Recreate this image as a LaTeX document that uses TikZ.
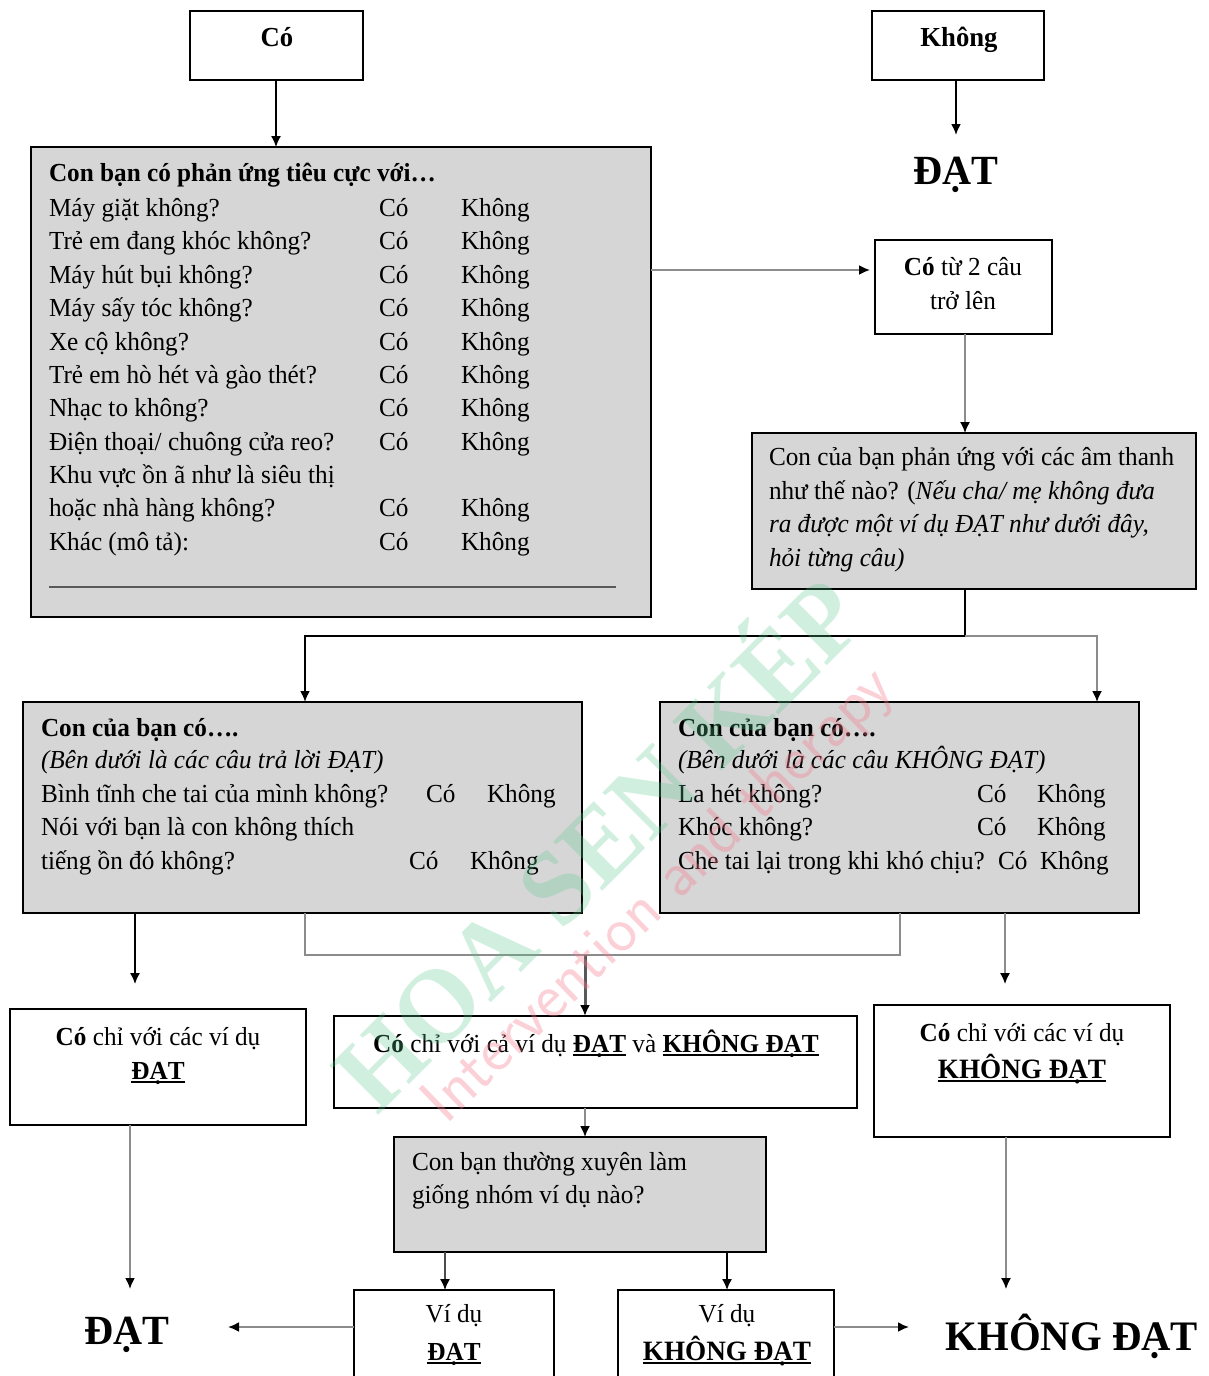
\documentclass[tikz,border=0pt]{standalone}
\usepackage{fontspec}
\setmainfont[FakeStretch=0.97]{Liberation Serif}
\usetikzlibrary{arrows.meta,calc}
\newcounter{tn}
\tikzset{
 x=1pt,y=-1pt,
 boxw/.style={draw=black,line width=1.6pt,fill=white,anchor=north west,inner sep=0pt,outer sep=0pt},
 boxg/.style={boxw,fill=boxgray},
 txt/.style={anchor=base west,inner sep=0pt,outer sep=0pt,font=\fontsize{26}{30}\selectfont},
 ctr/.style={txt,anchor=base},
 big/.style={anchor=base,inner sep=0pt},
 conb/.style={line width=1.5pt,draw=black,-{Latex[length=11pt,width=10pt]}},
 cong/.style={line width=1.8pt,draw=linegray,-{Latex[length=11pt,width=10pt,color=black]}},
 plainb/.style={line width=1.5pt,draw=black},
 plaing/.style={line width=1.8pt,draw=linegray},
}
\definecolor{boxgray}{HTML}{D6D6D6}
\definecolor{linegray}{HTML}{8C8C8C}
\definecolor{wmgreen}{HTML}{5CC98F}
\definecolor{wmpink}{HTML}{F47C8E}
\newcommand\bx[6]{\node[#1,minimum width=#4-#2,minimum height=#5-#3] (#6) at (#2,#3) {};}
\newcommand\tl[3]{\stepcounter{tn}\node[txt] (t\thetn) at (#1,#2) {#3};}
\newcommand\tc[3]{\stepcounter{tn}\node[ctr] (t\thetn) at (#1,#2) {#3};}
\newcommand\row[5]{\tl{#1}{#2}{#3}\tl{#4}{#2}{Có}\tl{#5}{#2}{Không}}
\newcommand\ub[1]{\setbox0\hbox{\textbf{#1}}\rlap{\raisebox{-.16em}{\rule{\wd0}{.09em}}}\box0\relax}
\begin{document}
\begin{tikzpicture}
\useasboundingbox (0,0) rectangle (1208,1376);
\fill[white] (0,0) rectangle (1208,1376);
% boxes
\bx{boxw}{190}{11}{363}{80}{co}
\bx{boxw}{872}{11}{1044}{80}{khong}
\bx{boxg}{31}{147}{651}{617}{qa}
\bx{boxw}{875}{240}{1052}{334}{two}
\bx{boxg}{752}{433}{1196}{589}{qb}
\bx{boxg}{23}{702}{582}{913}{yes}
\bx{boxg}{660}{702}{1139}{913}{no}
\bx{boxw}{10}{1009}{306}{1125}{ra}
\bx{boxw}{334}{1016}{857}{1108}{rb}
\bx{boxw}{874}{1005}{1170}{1137}{rc}
\bx{boxg}{394}{1137}{766}{1252}{qc}
\bx{boxw}{354}{1290}{554}{1400}{ve}
\bx{boxw}{618}{1290}{834}{1400}{vf}
% big results
\node[big,font=\fontsize{41.5}{44}\selectfont\bfseries] (dat1) at (956,184) {ĐẠT};
\node[big,font=\fontsize{41.5}{44}\selectfont\bfseries] (dat2) at (127,1344) {ĐẠT};
\node[big,font=\fontsize{42}{46}\selectfont\bfseries] (kdat) at (1072,1350) {KHÔNG ĐẠT};
% helper coordinates
\coordinate (x1) at (956,0);
\coordinate (y1) at (0,270);
\coordinate (n1) at (870,270);
\coordinate (x2) at (965,0);
\coordinate (j1) at (965,636);
\coordinate (x3) at (305,0);
\coordinate (x4) at (1097,0);
\coordinate (y2) at (0,955);
\coordinate (x5) at (900,0);
\coordinate (x6) at (585,0);
\coordinate (x7) at (135,0);
\coordinate (x8) at (1005,0);
\coordinate (y3) at (0,984);
\coordinate (x9) at (130,0);
\coordinate (x10) at (1006,0);
\coordinate (y4) at (0,1289);
\coordinate (x11) at (445,0);
\coordinate (x12) at (727,0);
\coordinate (y5) at (0,1327);
\coordinate (x13) at (228,0);
\coordinate (x14) at (909,0);
\coordinate (x15) at (276,0);
\coordinate (y6) at (0,135);
% connectors
\draw[conb,line width=1.4pt] (x15 |- co.south) -- (x15 |- qa.north);
\draw[conb,line width=2pt] (x1 |- khong.south) -- (x1 |- y6);
\draw[cong] (y1 -| qa.east) -- (n1);
\draw[cong,line width=1.5pt] (x2 |- two.south) -- (x2 |- qb.north);
\draw[plainb,line width=2pt] (x2 |- qb.south) -- (j1);
\draw[conb,line width=2pt] (j1) -- (x3 |- j1) -- (x3 |- yes.north);
\draw[cong] (j1) -- (x4 |- j1) -- (x4 |- no.north);
\draw[plaing] (x3 |- yes.south) -- (x3 |- y2) -- (x5 |- y2) -- (x5 |- no.south);
\draw[cong,line width=3pt,draw=black!65] (x6 |- y2) -- (x6 |- rb.north);
\draw[conb] (x7 |- yes.south) -- (x7 |- y3);
\draw[cong,line width=1.5pt] (x8 |- no.south) -- (x8 |- y3);
\draw[cong,line width=2pt,draw=black!45] (x9 |- ra.south) -- (x9 |- y4);
\draw[cong,line width=1.3pt] (x10 |- rc.south) -- (x10 |- y4);
\draw[cong] (x6 |- rb.south) -- (x6 |- qc.north);
\draw[cong,line width=1.5pt,draw=black!70] (x11 |- qc.south) -- (x11 |- ve.north);
\draw[conb] (x12 |- qc.south) -- (x12 |- vf.north);
\draw[cong,line width=2pt] (y5 -| ve.west) -- (x13 |- y5);
\draw[cong,line width=2pt] (y5 -| vf.east) -- (x14 |- y5);
% box texts
\stepcounter{tn}\node[ctr,font=\fontsize{27.5}{30}\selectfont\bfseries] (t\thetn) at (277,46) {Có};
\stepcounter{tn}\node[ctr,font=\fontsize{27.5}{30}\selectfont\bfseries] (t\thetn) at (959,46) {Không};
\tl{49}{181}{\textbf{Con bạn có phản ứng tiêu cực với…}}
\row{49}{216}{Máy giặt không?}{379}{461}
\row{49}{249}{Trẻ em đang khóc không?}{379}{461}
\row{49}{283}{Máy hút bụi không?}{379}{461}
\row{49}{316}{Máy sấy tóc không?}{379}{461}
\row{49}{350}{Xe cộ không?}{379}{461}
\row{49}{383}{Trẻ em hò hét và gào thét?}{379}{461}
\row{49}{416}{Nhạc to không?}{379}{461}
\row{49}{450}{Điện thoại/ chuông cửa reo?}{379}{461}
\tl{49}{483}{Khu vực ồn ã như là siêu thị}
\row{49}{516}{hoặc nhà hàng không?}{379}{461}
\row{49}{550}{Khác (mô tả):}{379}{461}
\coordinate (ra1) at (49,587);
\coordinate (ra2) at (616,587);
\draw[line width=1.3pt,draw=black!65] (ra1) -- (ra2);
\tc{963}{275}{\textbf{Có} từ 2 câu}
\tc{963}{309}{trở lên}
\tl{769}{465}{Con của bạn phản ứng với các âm thanh}
\tl{769}{499}{như thế nào? (\textit{Nếu cha/ mẹ không đưa}}
\tl{769}{532}{\textit{ra được một ví dụ ĐẠT như dưới đây,}}
\tl{769}{566}{\textit{hỏi từng câu)}}
\tl{41}{736}{\textbf{Con của bạn có….}}
\tl{41}{768}{\textit{(Bên dưới là các câu trả lời ĐẠT)}}
\row{41}{802}{Bình tĩnh che tai của mình không?}{426}{487}
\tl{41}{835}{Nói với bạn là con không thích}
\row{41}{869}{tiếng ồn đó không?}{409}{470}
\tl{678}{736}{\textbf{Con của bạn có….}}
\tl{678}{768}{\textit{(Bên dưới là các câu KHÔNG ĐẠT)}}
\row{678}{802}{La hét không?}{977}{1037}
\row{678}{835}{Khóc không?}{977}{1037}
\row{678}{869}{Che tai lại trong khi khó chịu?}{998}{1040}
\tc{158}{1045}{\textbf{Có} chỉ với các ví dụ}
\tc{158}{1079}{\ub{ĐẠT}}
\tc{596}{1052}{\textbf{Có} chỉ với cả ví dụ \ub{ĐẠT} và \ub{KHÔNG ĐẠT}}
\tc{1022}{1041}{\textbf{Có} chỉ với các ví dụ}
\stepcounter{tn}\node[ctr,font=\fontsize{28}{32}\selectfont\bfseries] (t\thetn) at (1022,1078) {\ub{KHÔNG ĐẠT}};
\tl{412}{1170}{Con bạn thường xuyên làm}
\tl{412}{1203}{giống nhóm ví dụ nào?}
\tc{454}{1322}{Ví dụ}
\tc{454}{1360}{\ub{ĐẠT}}
\tc{727}{1322}{Ví dụ}
\stepcounter{tn}\node[ctr,font=\fontsize{28}{32}\selectfont\bfseries] (t\thetn) at (727,1360) {\ub{KHÔNG ĐẠT}};
% watermark
\node[anchor=center,rotate=45,text=wmgreen,text opacity=.28,inner sep=0pt,font=\fontsize{106}{106}\selectfont\bfseries] (wm1) at (592,838) {HOA SEN KÉP};
\node[anchor=center,rotate=44,text=wmpink,text opacity=.35,inner sep=0pt,font=\fontsize{65}{65}\selectfont\sffamily] (wm2) at (660,897) {Intervention and therapy};
\end{tikzpicture}
\end{document}
